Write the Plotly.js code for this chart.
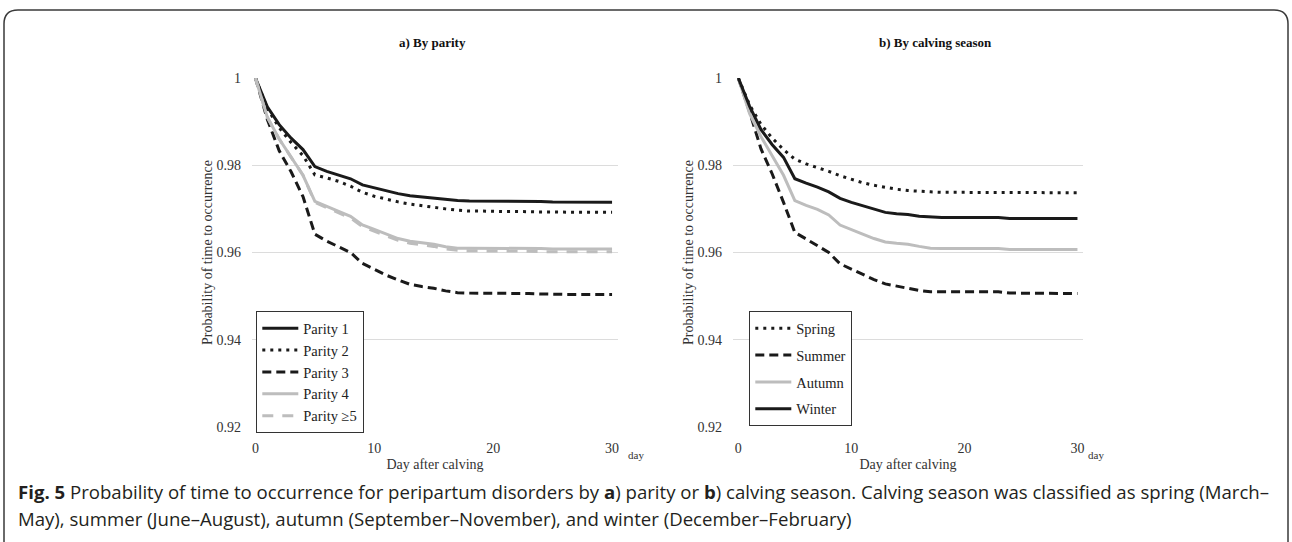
<!DOCTYPE html>
<html>
<head>
<meta charset="utf-8">
<script src="https://cdn.plot.ly/plotly-3.0.1.min.js"></script>
<style>
html,body{margin:0;padding:0;background:#fff;}
#chart{width:1292px;height:542px;}
</style>
</head>
<body>
<div id="chart"></div>
<script>
// ---- data ----
const days = [0,1,2,3,4,5,6,7,8,9,10,11,12,13,14,15,16,17,18,19,20,21,22,23,24,25,26,27,28,29,30];

const parity1 = [1.0,0.9934,0.9893,0.9862,0.9836,0.9797,0.9786,0.9777,0.9769,0.9755,0.9748,0.9741,0.9735,0.9730,0.9727,0.9725,0.9722,0.9719,0.9718,0.9718,0.9718,0.9718,0.9718,0.9717,0.9717,0.9716,0.9716,0.9715,0.9715,0.9715,0.9715];
const parity2 = [1.0,0.9930,0.9886,0.9852,0.9822,0.9778,0.9771,0.9763,0.9752,0.9738,0.9729,0.9722,0.9716,0.9711,0.9707,0.9704,0.9700,0.9697,0.9695,0.9695,0.9694,0.9694,0.9694,0.9693,0.9693,0.9693,0.9692,0.9692,0.9692,0.9692,0.9692];
const parity3 = [1.0,0.9905,0.9833,0.9785,0.9728,0.9642,0.9626,0.9613,0.9600,0.9575,0.9561,0.9548,0.9537,0.9527,0.9522,0.9518,0.9512,0.9508,0.9507,0.9507,0.9507,0.9507,0.9507,0.9506,0.9505,0.9504,0.9504,0.9504,0.9504,0.9504,0.9504];
const parity4 = [1.0,0.9910,0.9860,0.9820,0.9777,0.9717,0.9705,0.9694,0.9683,0.9663,0.9653,0.9642,0.9632,0.9626,0.9623,0.9619,0.9613,0.9610,0.9610,0.9610,0.9610,0.9610,0.9610,0.9609,0.9609,0.9608,0.9608,0.9608,0.9608,0.9608,0.9608];
const parity5 = [1.0,0.9910,0.9860,0.9820,0.9777,0.9715,0.9703,0.9691,0.9679,0.9659,0.9649,0.9638,0.9628,0.9621,0.9618,0.9614,0.9608,0.9605,0.9604,0.9604,0.9604,0.9604,0.9603,0.9603,0.9602,0.9602,0.9602,0.9602,0.9602,0.9602,0.9602];

const spring = [1.0,0.9938,0.9894,0.9862,0.9836,0.9814,0.9803,0.9795,0.9786,0.9776,0.9768,0.9760,0.9754,0.9749,0.9745,0.9742,0.9740,0.9739,0.9738,0.9738,0.9738,0.9738,0.9738,0.9738,0.9737,0.9737,0.9737,0.9737,0.9737,0.9737,0.9737];
const summer = [1.0,0.9922,0.9838,0.9780,0.9715,0.9646,0.9631,0.9616,0.9600,0.9574,0.9562,0.9549,0.9538,0.9528,0.9523,0.9519,0.9513,0.9510,0.9510,0.9510,0.9510,0.9510,0.9510,0.9510,0.9507,0.9507,0.9507,0.9506,0.9506,0.9506,0.9506];
const autumn = [1.0,0.9918,0.9866,0.9822,0.9777,0.9719,0.9708,0.9699,0.9686,0.9663,0.9652,0.9642,0.9632,0.9624,0.9621,0.9619,0.9614,0.9610,0.9609,0.9609,0.9609,0.9609,0.9609,0.9609,0.9607,0.9607,0.9607,0.9607,0.9607,0.9607,0.9607];
const winter = [1.0,0.9935,0.9882,0.9847,0.9818,0.9769,0.9759,0.9750,0.9739,0.9724,0.9715,0.9707,0.9699,0.9692,0.9689,0.9687,0.9683,0.9681,0.9680,0.9680,0.9680,0.9680,0.9680,0.9680,0.9678,0.9678,0.9678,0.9678,0.9678,0.9678,0.9678];

const parityNames = ["Parity 1","Parity 2","Parity 3","Parity 4","Parity \u22655"];
const seasonNames = ["Spring","Summer","Autumn","Winter"];
const yTicks = [0.92,0.94,0.96,0.98,1];
const xTicks = [0,10,20,30];

// ---- styling ----
const BLACK = "#1a1a1a", GRAY = "#bdbdbd";
const SERIF = "Liberation Serif, Times New Roman, serif";
const SANS = "Open Sans, Noto Sans, sans-serif";
const LW = 3;
const DOT = "3px,5px", DASH = "9px,5px", GDASH = "11px,9px";

// pixel frame of plotting region
const Lp = 252, Rp = 1083, Tp = 78, Bp = 427, Wf = 1292, Hf = 542;
const px = x => (x - Lp) / (Rp - Lp);
const py = y => (Bp - y) / (Bp - Tp);

function tr(y, name, color, dash, xa, ya, leg){
  return {x: days, y: y, name: name, type: "scatter", mode: "lines",
    line: {color: color, width: LW, dash: dash},
    xaxis: xa, yaxis: ya, legend: leg, legendgroup: name, hoverinfo: "x+y+name"};
}

const data = [
  tr(parity1, parityNames[0], BLACK, "solid", "x", "y", "legend"),
  tr(parity2, parityNames[1], BLACK, DOT, "x", "y", "legend"),
  tr(parity3, parityNames[2], BLACK, DASH, "x", "y", "legend"),
  tr(parity4, parityNames[3], GRAY, "solid", "x", "y", "legend"),
  tr(parity5, parityNames[4], GRAY, GDASH, "x", "y", "legend"),
  tr(spring, seasonNames[0], BLACK, DOT, "x2", "y2", "legend2"),
  tr(summer, seasonNames[1], BLACK, DASH, "x2", "y2", "legend2"),
  tr(autumn, seasonNames[2], GRAY, "solid", "x2", "y2", "legend2"),
  tr(winter, seasonNames[3], BLACK, "solid", "x2", "y2", "legend2")
];

const tickFont = {family: SERIF, size: 14, color: "#333"};
const titleFont = {family: SERIF, size: 14, color: "#333"};

function xax(domain, range){
  return {domain: domain, range: range, tickvals: xTicks, ticks: "", showline: false,
    zeroline: false, showgrid: false, tickfont: tickFont, ticklabelstandoff: 11,
    title: {text: "Day after calving", font: titleFont, standoff: 4}, fixedrange: true};
}
function yax(anchor){
  return {domain: [0,1], range: [0.92, 1.0], tickvals: yTicks, ticks: "", showline: false,
    zeroline: false, showgrid: true, gridcolor: "#dcdcdc", gridwidth: 1, tickfont: tickFont,
    ticklabelstandoff: 10, anchor: anchor,
    title: {text: "Probability of time to occurrence", font: titleFont, standoff: 0}, fixedrange: true};
}

const legBase = {bgcolor: "#fff", bordercolor: "#333", borderwidth: 1.3,
  font: {family: SERIF, size: 14.5, color: "#222"}, traceorder: "grouped",
  xanchor: "left", yanchor: "top", itemwidth: 36, itemclick: false, itemdoubleclick: false};

// border path (rounded, open at bottom beyond frame)
const bx0 = px(4), bx1 = px(1288), by0 = py(10), byB = py(560);
const rx = px(18) - px(4), ry = py(10) - py(24);
const borderPath = `M ${bx0} ${byB} L ${bx0} ${by0 - ry} Q ${bx0} ${by0} ${bx0 + rx} ${by0} ` +
  `L ${bx1 - rx} ${by0} Q ${bx1} ${by0} ${bx1} ${by0 - ry} L ${bx1} ${byB}`;

const layout = {
  width: Wf, height: Hf,
  margin: {l: Lp, r: Wf - Rp, t: Tp, b: Hf - Bp, pad: 0},
  paper_bgcolor: "#fff", plot_bgcolor: "#fff",
  showlegend: true,
  xaxis: xax([0, px(618)], [-0.29, 30.5]),
  yaxis: yax("x"),
  xaxis2: xax([px(733), 1], [-0.47, 30.49]),
  yaxis2: yax("x2"),
  legend: Object.assign({}, legBase, {x: px(256), y: py(311), tracegroupgap: 0}),
  legend2: Object.assign({}, legBase, {x: px(749), y: py(311), tracegroupgap: 5}),
  shapes: [{type: "path", xref: "paper", yref: "paper", path: borderPath,
    line: {color: "#3a3a3a", width: 1.5}, layer: "above"}],
  annotations: [
    {text: "<b>a) By parity</b>", xref: "paper", yref: "paper", x: px(432), y: py(43),
      xanchor: "center", yanchor: "middle", showarrow: false, font: {family: SERIF, size: 13, color: "#111"}},
    {text: "<b>b) By calving season</b>", xref: "paper", yref: "paper", x: px(935), y: py(43),
      xanchor: "center", yanchor: "middle", showarrow: false, font: {family: SERIF, size: 13, color: "#111"}},
    {text: "day", xref: "paper", yref: "paper", x: px(636), y: py(455),
      xanchor: "center", yanchor: "middle", showarrow: false, font: {family: SERIF, size: 11, color: "#333"}},
    {text: "day", xref: "paper", yref: "paper", x: px(1096), y: py(455),
      xanchor: "center", yanchor: "middle", showarrow: false, font: {family: SERIF, size: 11, color: "#333"}},
    {text: "<b>Fig. 5</b> Probability of time to occurrence for peripartum disorders by <b>a</b>) parity or <b>b</b>) calving season. Calving season was classified as spring (March\u2013",
      xref: "paper", yref: "paper", x: px(16), y: py(491), xanchor: "left", yanchor: "middle",
      showarrow: false, font: {family: SANS, size: 18.6, color: "#231f20"}},
    {text: "May), summer (June\u2013August), autumn (September\u2013November), and winter (December\u2013February)",
      xref: "paper", yref: "paper", x: px(16), y: py(518), xanchor: "left", yanchor: "middle",
      showarrow: false, font: {family: SANS, size: 18.6, color: "#231f20"}}
  ]
};

Plotly.newPlot("chart", data, layout, {displayModeBar: false, staticPlot: true});
</script>
</body>
</html>
